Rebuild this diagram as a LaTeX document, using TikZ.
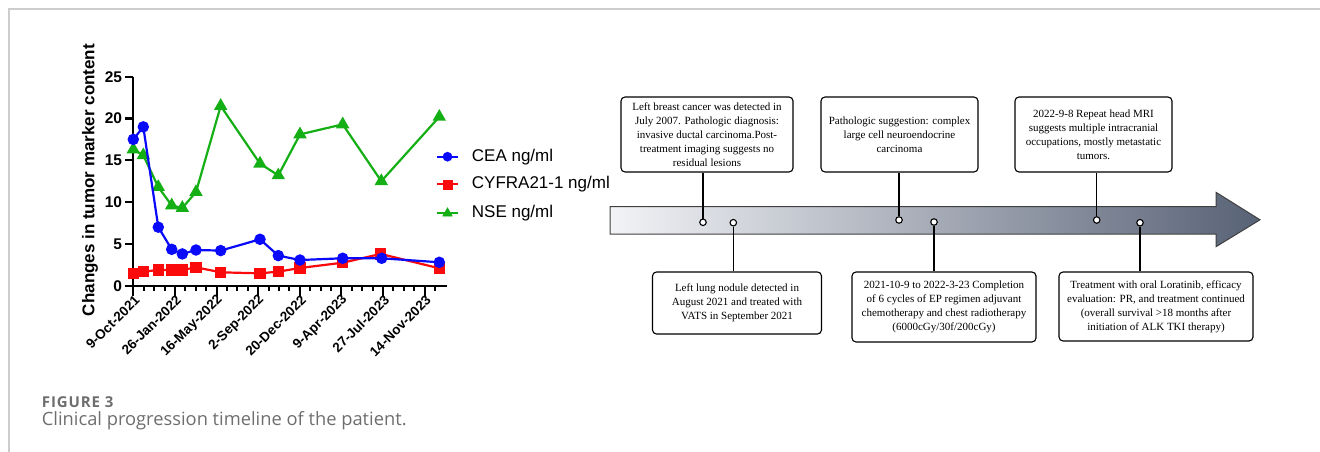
\documentclass[tikz,border=0pt]{standalone}
\usepackage{fontspec}
\setmainfont{Liberation Serif}
\setsansfont{Liberation Sans}
\newfontfamily\capfont{Open Sans}
\newfontfamily\figfont[LetterSpace=6]{Open Sans}
\usepackage{xcolor}
\usetikzlibrary{plotmarks,positioning}

\definecolor{ceablue}{RGB}{10,10,250}
\definecolor{cyfrared}{RGB}{250,10,10}
\definecolor{nsegreen}{RGB}{20,175,20}
\definecolor{arrowdark}{RGB}{88,98,118}
\definecolor{arrowlight}{RGB}{242,243,246}
\definecolor{capgray}{RGB}{110,110,110}
\definecolor{framegray}{RGB}{205,205,205}

\begin{document}
\begin{tikzpicture}[
  x=1pt, y=1pt,
  font=\sffamily,
  evbox/.style={draw, rounded corners=4pt, line width=1.1pt, fill=white, align=center,
    inner sep=2pt, font=\rmfamily\fontsize{11}{14}\selectfont},
  tlpin/.style={circle, draw, fill=white, line width=1.1pt, inner sep=0pt, minimum size=6.5pt},
  link/.style={line width=1.1pt},
  axisline/.style={line width=2.2pt},
  serie/.style={line width=2.2pt},
  ticklab/.style={font=\sffamily\bfseries\fontsize{15.5}{16}\selectfont, anchor=east, inner sep=0pt},
  xlab/.style={font=\sffamily\bfseries\fontsize{13.5}{14}\selectfont, anchor=east, rotate=45, inner sep=0pt},
  legtext/.style={font=\sffamily\fontsize{17}{18}\selectfont, anchor=west, inner sep=0pt}
]
  \useasboundingbox (0,0) rectangle (1320,-452);
  \draw[framegray, line width=1.4pt] (9,-452) -- (9,-9) -- (1320,-9);

  % tumour marker chart
  \begin{scope}[shift={(133.3,-285.7)}, y=8.36pt]
    \draw[axisline] (0,25) -- (0,0) -- (313.4,0);
    \foreach \v in {0,5,...,25} {
      \draw[axisline] (-8pt,\v) -- (0,\v);
      \node[ticklab] (yl\v) at (-11pt,\v) {\v};
    }
    \foreach \k in {0,...,29} \draw[line width=2pt] (\k*10.4,0) -- ++(0,-5.5pt);
    \foreach \lab [count=\i from 0] in {9-Oct-2021,26-Jan-2022,16-May-2022,2-Sep-2022,
        20-Dec-2022,9-Apr-2023,27-Jul-2023,14-Nov-2023} {
      \draw[line width=2pt] (\i*41.6,0) -- ++(0,-10pt);
      \node[xlab] (xl\i) at ([xshift=4pt, yshift=-12pt]\i*41.6,0) {\lab};
    }
    \draw[serie, nsegreen, mark=triangle*, mark size=5.6pt, mark options={solid}] plot coordinates {
      (0,16.3) (10,15.6) (25,11.8) (38.4,9.6) (49,9.3) (62.7,11.2) (87.4,21.5)
      (126.7,14.6) (145,13.2) (166.7,18.1) (209.4,19.3) (248,12.5) (306,20.2)};
    \draw[serie, cyfrared, mark=square*, mark size=4.6pt] plot coordinates {
      (0,1.48) (10,1.68) (25,1.88) (38.4,1.88) (49,1.88) (62.7,2.2) (87.4,1.6)
      (126.7,1.48) (145,1.68) (166.7,2.12) (209.4,2.75) (247.4,3.8) (306,2.08)};
    \draw[serie, ceablue, mark=*, mark size=4.6pt] plot coordinates {
      (0,17.5) (10,19.0) (25,7.0) (38.4,4.35) (49,3.8) (62.7,4.27) (87.4,4.2)
      (126.7,5.55) (145,3.6) (166.7,3.07) (209.4,3.28) (248.4,3.28) (306,2.8)};
  \end{scope}
  \node[font=\sffamily\bfseries\fontsize{17}{18}\selectfont, rotate=90, inner sep=0pt]
    (ylabel) at (90,-180) {Changes in tumor marker content};

  % legend
  \foreach \y/\col/\mk/\ms/\txt [count=\i] in {
      -156.7/ceablue/*/4.6pt/{CEA ng/ml},
      -184.3/cyfrared/square*/4.6pt/{CYFRA21-1 ng/ml},
      -213.3/nsegreen/triangle*/5.6pt/{NSE ng/ml}} {
    \draw[serie, \col] (437,\y) -- (458,\y);
    \path[\col] plot[mark=\mk, mark size=\ms] coordinates {(447.5,\y)};
    \node[legtext] (leg\i) at (471.7,\y) {\txt};
  }

  % timeline arrow
  \shade[left color=arrowlight, right color=arrowdark, draw=black!75, line width=1pt]
    (610,-206.5) -- (1216,-206.5) -- (1216,-192.3) -- (1260,-219.8)
    -- (1216,-246.7) -- (1216,-234) -- (610,-234) -- cycle;

  \node[evbox, minimum width=172pt, minimum height=75pt] (e1) at (707,-134.5)
    {Left breast cancer was detected in\\ July 2007. Pathologic diagnosis:\\
     invasive ductal carcinoma.Post-\\ treatment imaging suggests no\\ residual lesions};
  \node[evbox, minimum width=157pt, minimum height=75pt] (e3) at (899.5,-134.5)
    {Pathologic suggestion: complex\\ large cell neuroendocrine\\ carcinoma};
  \node[evbox, minimum width=157pt, minimum height=75pt] (e5) at (1093.5,-134.5)
    {2022-9-8 Repeat head MRI\\ suggests multiple intracranial\\
     occupations, mostly metastatic\\ tumors.};
  \node[evbox, minimum width=169pt, minimum height=62pt] (e2) at (737,-303)
    {Left lung nodule detected in\\ August 2021 and treated with\\ VATS in September 2021};
  \node[evbox, minimum width=184pt, minimum height=70pt] (e4) at (944,-307)
    {2021-10-9 to 2022-3-23 Completion\\ of 6 cycles of EP regimen adjuvant\\
     chemotherapy and chest radiotherapy\\ (6000cGy/30f/200cGy)};
  \node[evbox, minimum width=194pt, minimum height=69pt] (e6) at (1156,-306.5)
    {Treatment with oral Loratinib, efficacy\\ evaluation: PR, and treatment continued\\
     (overall survival >18 months after\\ initiation of ALK TKI therapy)};

  \node[tlpin] (p1) at (703,-222.3) {};
  \node[tlpin] (p2) at (733.3,-222.7) {};
  \node[tlpin] (p3) at (899,-220) {};
  \node[tlpin] (p4) at (934,-222) {};
  \node[tlpin] (p5) at (1096.7,-220) {};
  \node[tlpin] (p6) at (1140,-222.7) {};
  \foreach \p/\b in {p1/e1,p3/e3,p5/e5} \draw[link] (\p.north) -- (\b.south -| \p);
  \foreach \p/\b in {p2/e2,p4/e4,p6/e6} \draw[link] (\p.south) -- (\b.north -| \p);

  % caption
  \node[anchor=west, inner sep=0pt, text=capgray, font=\figfont\bfseries\fontsize{15}{16}\selectfont]
    (fig) at (41.7,-401.7) {FIGURE 3};
  \node[anchor=west, inner sep=0pt, text=capgray, font=\capfont\fontsize{18.3}{19}\selectfont]
    (cap) at (41.7,-420.7) {Clinical progression timeline of the patient.};
\end{tikzpicture}
\end{document}
